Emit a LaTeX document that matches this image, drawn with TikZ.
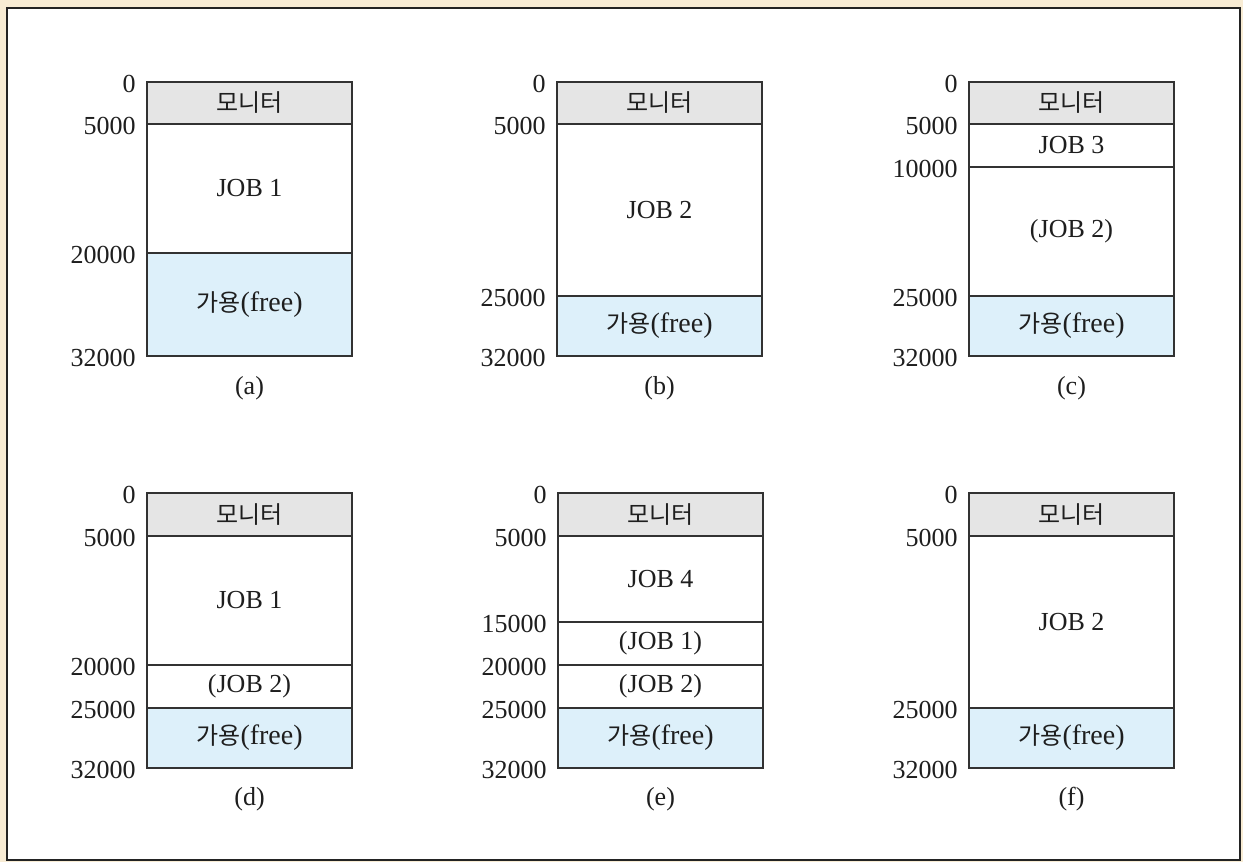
\documentclass[tikz,border=0pt]{standalone}
\usepackage{fontspec}
\setmainfont{Liberation Serif}
\newfontfamily\kr{Noto Sans CJK KR}
\definecolor{tanbg}{RGB}{248,236,212}
\definecolor{framec}{RGB}{35,35,35}
\definecolor{linec}{RGB}{50,50,50}
\definecolor{mongray}{RGB}{229,229,229}
\definecolor{freeblue}{RGB}{221,240,250}
\definecolor{txt}{RGB}{30,30,30}
\newcommand{\memcell}[6]{%
  \draw[cellline,#4] (#1,#2) rectangle ({#1+205},#3);
  \node[celltext] (#5) at ({#1+102.5},{(#2+#3)/2}) {#6};
}
\newcommand{\addr}[4]{%
  \node[addrtext] (#3) at ({#1-11},{#2+10}) {#4};
}
\newcommand{\krtxt}[1]{{\kr\fontsize{12}{14}\selectfont #1}}
\newcommand{\freetxt}{\krtxt{가용}{\fontsize{14}{16}\selectfont(free)}}
\begin{document}
\begin{tikzpicture}[x=0.5pt,y=-0.5pt,
  cellline/.style={draw=linec,line width=1pt},
  mon/.style={fill=mongray},
  job/.style={fill=white},
  free/.style={fill=freeblue},
  celltext/.style={inner sep=0pt,text=txt,font=\fontsize{13}{15}\selectfont},
  addrtext/.style={anchor=base east,inner sep=0pt,text=txt,font=\fontsize{13}{15}\selectfont},
  caption/.style={anchor=base,inner sep=0pt,text=txt,font=\fontsize{13}{15}\selectfont}]
\useasboundingbox[fill=tanbg] (0,0) rectangle (1243,862);
\draw[fill=white,draw=framec,line width=1.1pt] (7,8) rectangle (1240,860);
% (a)
\memcell{147}{82}{124}{mon}{a1}{\krtxt{모니터}}
\memcell{147}{124}{253}{job}{a2}{JOB 1}
\memcell{147}{253}{356}{free}{a3}{\freetxt}
\addr{147}{82}{an0}{0}
\addr{147}{124}{an1}{5000}
\addr{147}{253}{an2}{20000}
\addr{147}{356}{an3}{32000}
\node[caption] (ca) at (249.5,394) {(a)};
% (b)
\memcell{557}{82}{124}{mon}{b1}{\krtxt{모니터}}
\memcell{557}{124}{296}{job}{b2}{JOB 2}
\memcell{557}{296}{356}{free}{b3}{\freetxt}
\addr{557}{82}{bn0}{0}
\addr{557}{124}{bn1}{5000}
\addr{557}{296}{bn2}{25000}
\addr{557}{356}{bn3}{32000}
\node[caption] (cb) at (659.5,394) {(b)};
% (c)
\memcell{969}{82}{124}{mon}{c1}{\krtxt{모니터}}
\memcell{969}{124}{167}{job}{c2}{JOB 3}
\memcell{969}{167}{296}{job}{c3}{(JOB 2)}
\memcell{969}{296}{356}{free}{c4}{\freetxt}
\addr{969}{82}{cn0}{0}
\addr{969}{124}{cn1}{5000}
\addr{969}{167}{cn2}{10000}
\addr{969}{296}{cn3}{25000}
\addr{969}{356}{cn4}{32000}
\node[caption] (cc) at (1071.5,394) {(c)};
% (d)
\memcell{147}{493}{536}{mon}{d1}{\krtxt{모니터}}
\memcell{147}{536}{665}{job}{d2}{JOB 1}
\memcell{147}{665}{708}{job}{d3}{(JOB 2)}
\memcell{147}{708}{768}{free}{d4}{\freetxt}
\addr{147}{493}{dn0}{0}
\addr{147}{536}{dn1}{5000}
\addr{147}{665}{dn2}{20000}
\addr{147}{708}{dn3}{25000}
\addr{147}{768}{dn4}{32000}
\node[caption] (cd) at (249.5,805) {(d)};
% (e)
\memcell{558}{493}{536}{mon}{e1}{\krtxt{모니터}}
\memcell{558}{536}{622}{job}{e2}{JOB 4}
\memcell{558}{622}{665}{job}{e3}{(JOB 1)}
\memcell{558}{665}{708}{job}{e4}{(JOB 2)}
\memcell{558}{708}{768}{free}{e5}{\freetxt}
\addr{558}{493}{en0}{0}
\addr{558}{536}{en1}{5000}
\addr{558}{622}{en2}{15000}
\addr{558}{665}{en3}{20000}
\addr{558}{708}{en4}{25000}
\addr{558}{768}{en5}{32000}
\node[caption] (ce) at (660.5,805) {(e)};
% (f)
\memcell{969}{493}{536}{mon}{f1}{\krtxt{모니터}}
\memcell{969}{536}{708}{job}{f2}{JOB 2}
\memcell{969}{708}{768}{free}{f3}{\freetxt}
\addr{969}{493}{fn0}{0}
\addr{969}{536}{fn1}{5000}
\addr{969}{708}{fn2}{25000}
\addr{969}{768}{fn3}{32000}
\node[caption] (cf) at (1071.5,805) {(f)};
\end{tikzpicture}
\end{document}
